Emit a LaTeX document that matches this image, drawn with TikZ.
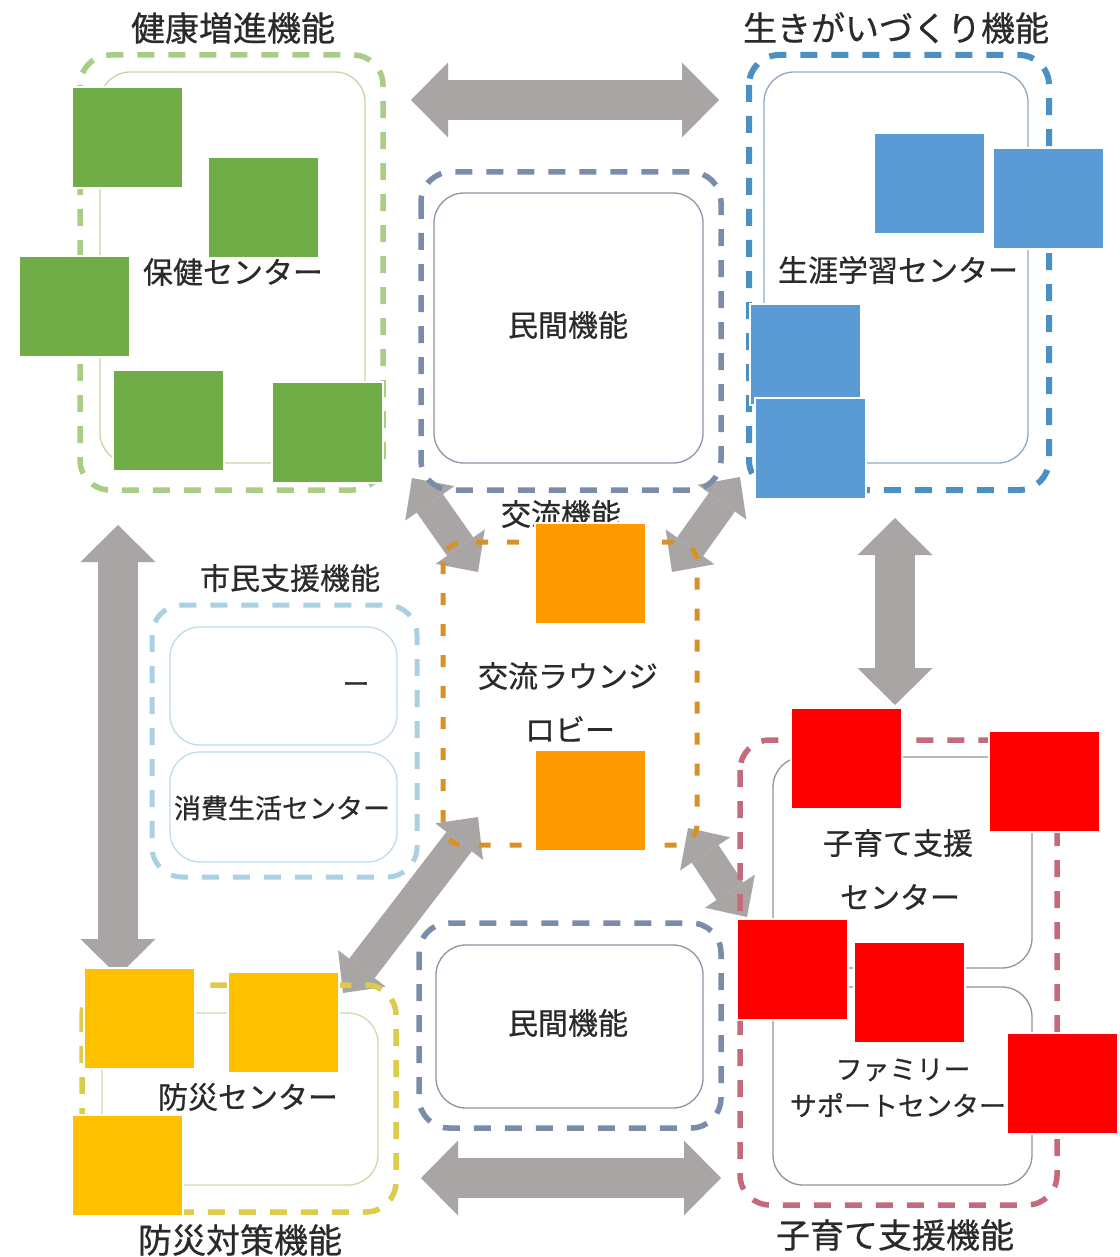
\documentclass[tikz,border=0pt]{standalone}
\usepackage{fontspec}
\setmainfont{Noto Sans CJK JP}[FakeBold=0.6]
\usepackage{xcolor}
\usepackage{tikz}
\usetikzlibrary{arrows.meta}

\definecolor{txt}{HTML}{2A2A2A}
\definecolor{arr}{HTML}{A9A5A4}
\definecolor{grnd}{HTML}{A9CD86}
\definecolor{grni}{HTML}{C8D3A8}
\definecolor{blud}{HTML}{4A90C2}
\definecolor{blui}{HTML}{8FA9BF}
\definecolor{sltd}{HTML}{7B8CAB}
\definecolor{slti}{HTML}{8A96A6}
\definecolor{orgd}{HTML}{D89126}
\definecolor{lbld}{HTML}{A9D0E3}
\definecolor{lbli}{HTML}{BFDCEA}
\definecolor{ylwd}{HTML}{DCCB4C}
\definecolor{ylwi}{HTML}{D8D3A8}
\definecolor{redd}{HTML}{C46B7B}
\definecolor{redi}{HTML}{9E8F93}
\definecolor{sqgreen}{HTML}{70AD47}
\definecolor{sqblue}{HTML}{5B9BD5}
\definecolor{sqorange}{HTML}{FF9900}
\definecolor{sqyellow}{HTML}{FFC000}
\definecolor{sqred}{HTML}{FF0000}

\begin{document}
\begin{tikzpicture}[x=1pt,y=-1pt,
  frame/.style={rounded corners=30pt, line width=5.5pt, dash pattern=on 17pt off 14pt},
  inbox/.style={rounded corners=30pt, line width=1.3pt},
  big/.style={font=\fontsize{34pt}{40pt}\selectfont, text=txt, inner sep=0pt},
  lbl/.style={font=\fontsize{30pt}{36pt}\selectfont, text=txt, inner sep=0pt},
  small/.style={font=\fontsize{27pt}{32pt}\selectfont, text=txt, inner sep=0pt},
  fat/.style={line width=40pt, arr, {Triangle[length=37pt,width=75pt,line width=0pt]}-{Triangle[length=37pt,width=75pt,line width=0pt]}},
  slim/.style={line width=32pt, arr, {Triangle[length=31pt,width=60pt,line width=0pt]}-{Triangle[length=31pt,width=60pt,line width=0pt]}},
  sq/.style={draw=white, line width=1.5pt}]

\useasboundingbox (0,0) rectangle (1119,1257);
\fill[white] (0,0) rectangle (1119,1257);

% arrows between the groups
\coordinate (hl) at (411,100);
\coordinate (hr) at (719,100);
\coordinate (bl) at (421,1178);
\coordinate (br) at (721,1178);
\coordinate (vt) at (118,525);
\coordinate (vb) at (118,976);
\coordinate (rt) at (895,518);
\coordinate (rb) at (895,705);
\coordinate (d1a) at (412,478);
\coordinate (d1b) at (478,572);
\coordinate (d2a) at (740,477);
\coordinate (d2b) at (672,572);
\coordinate (d3a) at (478,817);
\coordinate (d3b) at (343,993);
\coordinate (d4a) at (688,828);
\coordinate (d4b) at (747,917);

\draw[fat] (hl)--(hr);
\draw[fat] (bl)--(br);
\draw[fat] (vt)--(vb);
\draw[fat] (rt)--(rb);
\draw[slim] (d1a)--(d1b);
\draw[slim] (d2a)--(d2b);
\draw[slim] (d3a)--(d3b);
\draw[slim] (d4a)--(d4b);

% group frames
\draw[frame, grnd] (80,55) rectangle (383,490);
\draw[inbox, grni] (100,72) rectangle (365,463);

\draw[frame, blud, line width=6pt] (749,55) rectangle (1049,490);
\draw[inbox, blui] (764,72) rectangle (1028,463);

\draw[frame, sltd] (421,172) rectangle (721,490);
\draw[inbox, slti] (434,193) rectangle (703,463);

\draw[frame, sltd] (419,923) rectangle (721,1128);
\draw[inbox, slti] (436,945) rectangle (703,1108);

\draw[frame, orgd, rounded corners=20pt, line width=5pt, dash pattern=on 12pt off 19pt] (443,542) rectangle (697,845);

\draw[frame, lbld, line width=5pt] (152,605) rectangle (417,877);
\draw[inbox, lbli] (170,627) rectangle (397,745);
\draw[inbox, lbli] (170,752) rectangle (397,862);

\draw[frame, ylwd] (82,985) rectangle (396,1212);
\draw[inbox, ylwi] (102,1013) rectangle (378,1185);

\draw[frame, redd] (740,740) rectangle (1057,1205);
\draw[inbox, redi] (773,757) rectangle (1032,968);
\draw[inbox, redi] (773,987) rectangle (1032,1185);

% labels
\node[big] (tHealth) at (233,28) {健康増進機能};
\node[big] (tLife) at (896,28) {生きがいづくり機能};
\node[lbl] (tCitizen) at (290,578) {市民支援機能};
\node[big] (tDisaster) at (240,1240) {防災対策機能};
\node[big] (tChild) at (895,1235) {子育て支援機能};
\node[lbl] (tExch) at (561,514) {交流機能};
\node[lbl] (hoken) at (233,272) {保健センター};
\node[lbl] (shogai) at (898,270) {生涯学習センター};
\node[lbl] (minkan1) at (568,325) {民間機能};
\node[lbl] (minkan2) at (568,1023) {民間機能};
\node[lbl] (lounge) at (568,676) {交流ラウンジ};
\node[lbl] (lobby) at (570,729) {ロビー};
\node[small] (bar) at (356,688) {ー};
\node[small] (shohi) at (282,808) {消費生活センター};
\node[lbl] (bosai) at (248,1097) {防災センター};
\node[lbl] (kosodate) at (898,843) {子育て支援};
\node[lbl] (center) at (900,897) {センター};
\node[small] (family) at (903,1070) {ファミリー};
\node[small] (support) at (898,1105) {サポートセンター};

% cover squares
\foreach \x/\y in {72/87, 208/157, 19/256, 113/370, 272/382}
  \filldraw[sq, fill=sqgreen] (\x,\y) rectangle ++(111,101);
\foreach \x/\y in {874/133, 993/148, 750/304, 755/398}
  \filldraw[sq, fill=sqblue] (\x,\y) rectangle ++(111,101);
\foreach \x/\y in {535/523, 535/750}
  \filldraw[sq, fill=sqorange] (\x,\y) rectangle ++(111,101);
\foreach \x/\y in {84/968, 228/972, 72/1115}
  \filldraw[sq, fill=sqyellow] (\x,\y) rectangle ++(111,101);
\foreach \x/\y in {791/708, 989/731, 737/919, 854/942, 1007/1033}
  \filldraw[sq, fill=sqred] (\x,\y) rectangle ++(111,101);

\end{tikzpicture}
\end{document}
